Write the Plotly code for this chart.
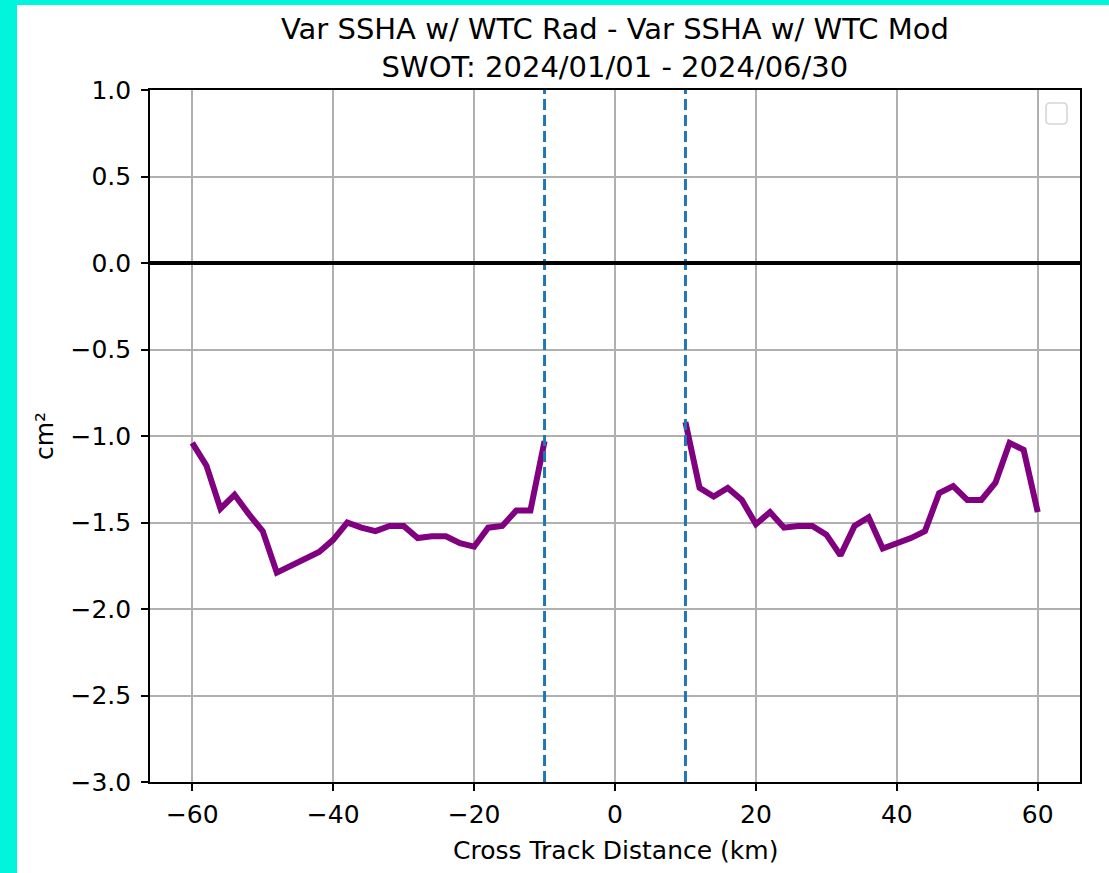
import plotly.graph_objects as go

# ---- data ----
left_x = [-60, -58, -56, -54, -52, -50, -48, -46, -44, -42, -40, -38, -36, -34,
          -32, -30, -28, -26, -24, -22, -20, -18, -16, -14, -12, -10]
left_y = [-1.04, -1.17, -1.42, -1.34, -1.45, -1.55, -1.79, -1.75, -1.71, -1.67,
          -1.60, -1.50, -1.53, -1.55, -1.52, -1.52, -1.59, -1.58, -1.58, -1.62,
          -1.64, -1.53, -1.52, -1.43, -1.43, -1.03]
right_x = [10, 12, 14, 16, 18, 20, 22, 24, 26, 28, 30, 32, 34, 36, 38, 40, 42,
           44, 46, 48, 50, 52, 54, 56, 58, 60]
right_y = [-0.92, -1.30, -1.35, -1.30, -1.37, -1.51, -1.44, -1.53, -1.52, -1.52,
           -1.57, -1.69, -1.52, -1.47, -1.65, -1.62, -1.59, -1.55, -1.33, -1.29,
           -1.37, -1.37, -1.27, -1.04, -1.08, -1.44]
swath_edges = [-10, 10]
ref_level = 0.0
x_range = [-66, 66]
y_range = [-3.0, 1.0]
x_ticks = [-60, -40, -20, 0, 20, 40, 60]
y_ticks = [-3.0, -2.5, -2.0, -1.5, -1.0, -0.5, 0.0, 0.5, 1.0]

title_l1 = "Var SSHA w/ WTC Rad - Var SSHA w/ WTC Mod"
title_l2 = "SWOT: 2024/01/01 - 2024/06/30"
x_label = "Cross Track Distance (km)"
y_label = "cm²"

W, H = 1109, 873
ML, MR, MT, MB = 150, 29, 90, 91
PW, PH = W - ML - MR, H - MT - MB


def px2x(px):
    return (px - ML) / PW


def py2y(py):
    return (H - MB - py) / PH


FONT = "DejaVu Sans"
PURPLE = "#800080"
BLUE = "#1f77b4"
CYAN = "#00F5DC"
TITLE_SIZE = 29
LABEL_SIZE = 25
TICK_SIZE = 25

fig = go.Figure()
fig.add_trace(go.Scatter(x=left_x, y=left_y, mode="lines",
                         line=dict(color=PURPLE, width=6), showlegend=False))
fig.add_trace(go.Scatter(x=right_x, y=right_y, mode="lines",
                         line=dict(color=PURPLE, width=6), showlegend=False))
for e in swath_edges:
    fig.add_trace(go.Scatter(x=[e, e], y=y_range, mode="lines",
                             line=dict(color=BLUE, width=3, dash="11px,5px"),
                             showlegend=False))
fig.add_trace(go.Scatter(x=x_range, y=[ref_level, ref_level], mode="lines",
                         line=dict(color="black", width=4), showlegend=False))

axis_common = dict(
    showgrid=True, gridcolor="#b0b0b0", gridwidth=1.6,
    showline=True, linecolor="black", linewidth=1.6, mirror=True,
    ticks="outside", ticklen=7, tickwidth=1.6, tickcolor="black",
    tickfont=dict(family=FONT, size=TICK_SIZE, color="black"),
    zeroline=False,
)

fig.update_xaxes(range=x_range, tickvals=x_ticks, ticklabelstandoff=2,
                 **axis_common)
fig.update_yaxes(range=y_range, tickvals=y_ticks, tickformat=".1f",
                 ticklabelstandoff=5, **axis_common)

shapes = []
# white page area inside the cyan frame (paper background is cyan)
shapes.append(dict(type="rect", xref="paper", yref="paper",
                   x0=px2x(17), x1=px2x(W + 5), y0=py2y(H + 5), y1=py2y(5),
                   fillcolor="white", line=dict(width=0), layer="below"))
# empty legend frame (rounded)
lx0, lx1, ly0, ly1, r = 1046, 1067, 103, 124, 4
p = (f"M {px2x(lx0 + r)} {py2y(ly0)} L {px2x(lx1 - r)} {py2y(ly0)} "
     f"Q {px2x(lx1)} {py2y(ly0)} {px2x(lx1)} {py2y(ly0 + r)} "
     f"L {px2x(lx1)} {py2y(ly1 - r)} "
     f"Q {px2x(lx1)} {py2y(ly1)} {px2x(lx1 - r)} {py2y(ly1)} "
     f"L {px2x(lx0 + r)} {py2y(ly1)} "
     f"Q {px2x(lx0)} {py2y(ly1)} {px2x(lx0)} {py2y(ly1 - r)} "
     f"L {px2x(lx0)} {py2y(ly0 + r)} "
     f"Q {px2x(lx0)} {py2y(ly0)} {px2x(lx0 + r)} {py2y(ly0)} Z")
shapes.append(dict(type="path", xref="paper", yref="paper", path=p,
                   fillcolor="rgba(255,255,255,0.8)",
                   line=dict(color="#d6d6d6", width=1.6), layer="above"))

annotations = [
    dict(text=title_l1 + "<br>" + title_l2, x=0.5, y=py2y(48),
         xref="paper", yref="paper", align="center",
         showarrow=False, xanchor="center", yanchor="middle",
         font=dict(family=FONT, size=TITLE_SIZE, color="black")),
    dict(text=x_label, x=0.5, y=py2y(850), xref="paper", yref="paper",
         showarrow=False, xanchor="center", yanchor="middle",
         font=dict(family=FONT, size=LABEL_SIZE, color="black")),
    dict(text=y_label, x=px2x(44), y=0.5, xref="paper", yref="paper",
         showarrow=False, xanchor="center", yanchor="middle", textangle=-90,
         font=dict(family=FONT, size=LABEL_SIZE, color="black")),
]

fig.update_layout(
    width=W, height=H,
    margin=dict(l=ML, r=MR, t=MT, b=MB, pad=0),
    paper_bgcolor=CYAN, plot_bgcolor="white",
    shapes=shapes, annotations=annotations,
    showlegend=False,
)

fig.write_html(
    "out.html",
    config={"displayModeBar": False},
    post_script="document.body.style.margin='0';"
                "document.body.style.overflow='hidden';",
)
